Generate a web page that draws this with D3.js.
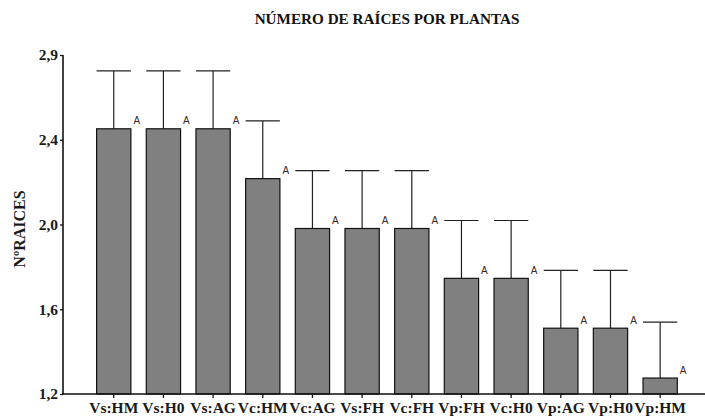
<!DOCTYPE html>
<html>
<head>
<meta charset="utf-8">
<script src="https://cdn.jsdelivr.net/npm/d3@7/dist/d3.min.js"></script>
<style>
  html, body { margin: 0; padding: 0; background: #fff; }
  svg { display: block; }
</style>
</head>
<body>
<svg id="chart" width="705" height="419"></svg>
<script>
const categories = ["Vs:HM","Vs:H0","Vs:AG","Vc:HM","Vc:AG","Vs:FH","Vc:FH","Vp:FH","Vc:H0","Vp:AG","Vp:H0","Vp:HM"];
const means      = [2.53, 2.53, 2.53, 2.28, 2.03, 2.03, 2.03, 1.78, 1.78, 1.53, 1.53, 1.28];
const errors     = [0.29, 0.29, 0.29, 0.29, 0.29, 0.29, 0.29, 0.29, 0.29, 0.29, 0.29, 0.28];
const letters    = ["A","A","A","A","A","A","A","A","A","A","A","A"];
const yMin = 1.2, yMax = 2.9;
const yTickLabels = ["1,2","1,6","2,0","2,4","2,9"];
const title = "NÚMERO DE RAÍCES POR PLANTAS";
const yTitle = "NºRAICES";

const svg = d3.select("#chart");
const serif = "'Liberation Serif','Times New Roman',serif";

const x = d3.scaleBand().domain(categories).range([88.9, 685]).paddingInner(0.31).paddingOuter(0.155);
const y = d3.scaleLinear().domain([yMin, yMax]).range([394, 55]);

const tickVals = yTickLabels.map((_, i) => yMin + i * (yMax - yMin) / (yTickLabels.length - 1));

// Title
svg.append("text").attr("x", 387).attr("y", 24).attr("text-anchor", "middle")
  .attr("font-family", serif).attr("font-weight", "bold").attr("font-size", 15.2)
  .attr("fill", "#111").text(title);

// Y title
svg.append("text").attr("transform", "translate(25,229) rotate(-90)").attr("text-anchor", "middle")
  .attr("font-family", serif).attr("font-weight", "bold").attr("font-size", 16)
  .attr("fill", "#1a1a1a").text(yTitle);

const data = categories.map((c, i) => ({c, m: means[i], e: errors[i], l: letters[i]}));

// Error bars
const eb = svg.append("g").attr("stroke", "#222").attr("stroke-width", 1.2);
eb.selectAll("line.v").data(data).join("line").attr("class", "v")
  .attr("x1", d => x(d.c) + x.bandwidth() / 2).attr("x2", d => x(d.c) + x.bandwidth() / 2)
  .attr("y1", d => y(d.m)).attr("y2", d => y(d.m + d.e));
eb.selectAll("line.c").data(data).join("line").attr("class", "c")
  .attr("x1", d => x(d.c)).attr("x2", d => x(d.c) + x.bandwidth())
  .attr("y1", d => y(d.m + d.e)).attr("y2", d => y(d.m + d.e));

// Bars
svg.append("g").selectAll("rect").data(data).join("rect")
  .attr("x", d => x(d.c)).attr("width", x.bandwidth())
  .attr("y", d => y(d.m)).attr("height", d => y(yMin) - y(d.m))
  .attr("fill", "#808080").attr("stroke", "#111").attr("stroke-width", 1.2);

// Letters
svg.append("g").selectAll("text").data(data).join("text")
  .attr("x", d => x(d.c) + x.bandwidth() + 2.5).attr("y", d => y(d.m) - 4.5)
  .attr("font-family", "'Liberation Sans',Arial,sans-serif").attr("font-size", 10)
  .attr("fill", "#3d2626").text(d => d.l);

// Y axis
const yAxis = d3.axisLeft(y).tickValues(tickVals).tickFormat((d, i) => yTickLabels[i]).tickSize(3).tickPadding(2);
const gy = svg.append("g").attr("transform", "translate(63,0)").call(yAxis);
gy.select(".domain").attr("stroke", "#111").attr("stroke-width", 1.6).attr("d", `M0,${y(yMax)}V${y(yMin)}`);
gy.selectAll(".tick line").attr("stroke", "#111").attr("stroke-width", 1.3);
gy.selectAll(".tick text").attr("font-family", serif).attr("font-weight", "bold").attr("font-size", 15.5).attr("fill", "#1a1a1a");

// X axis
const xAxis = d3.axisBottom(x).tickSize(4).tickPadding(4);
const gx = svg.append("g").attr("transform", `translate(0,${y(yMin)})`).call(xAxis);
gx.select(".domain").attr("stroke", "#111").attr("stroke-width", 1.6).attr("d", "M62,0H705");
gx.selectAll(".tick line").attr("stroke", "#111").attr("stroke-width", 1.3);
gx.selectAll(".tick text").attr("font-family", serif).attr("font-weight", "bold").attr("font-size", 15.5).attr("fill", "#1a1a1a");
</script>
</body>
</html>
